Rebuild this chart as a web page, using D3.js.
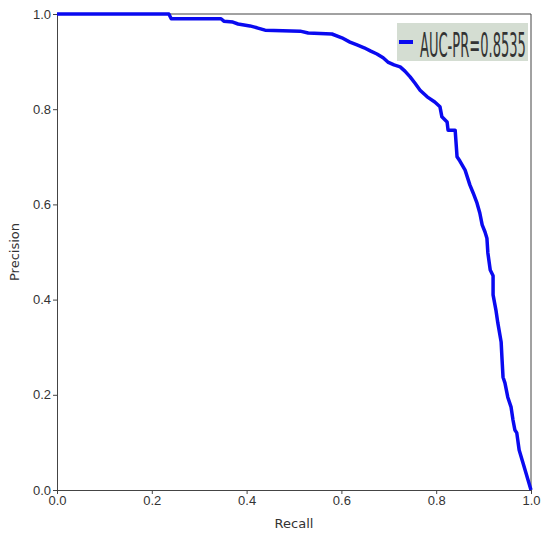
<!DOCTYPE html>
<html>
<head>
<meta charset="utf-8">
<script src="https://cdn.jsdelivr.net/npm/d3@7"></script>
<style>
  body { margin: 0; background: #fff; }
  svg { display: block; font-family: 'DejaVu Sans', sans-serif; }
  .tick text { fill: #333; font-size: 13px; }
  .tick line, .domain { stroke: #444; }
</style>
</head>
<body>
<div id="chart"></div>
<script>
// precision-recall curve
var recall = [0.000, 0.236, 0.241, 0.346, 0.352, 0.371, 0.382, 0.407, 0.422, 0.439,
    0.513, 0.530, 0.580, 0.601, 0.618, 0.633, 0.648, 0.662, 0.675, 0.688,
    0.698, 0.711, 0.724, 0.734, 0.745, 0.755, 0.766, 0.781, 0.797, 0.808,
    0.812, 0.823, 0.825, 0.840, 0.844, 0.850, 0.861, 0.871, 0.878, 0.886,
    0.892, 0.897, 0.903, 0.907, 0.909, 0.914, 0.920, 0.920, 0.926, 0.930,
    0.937, 0.939, 0.941, 0.945, 0.951, 0.958, 0.962, 0.966, 0.970, 0.975,
    0.983, 1.000];
var precision = [1.000, 1.000, 0.990, 0.990, 0.985, 0.983, 0.979, 0.975, 0.971, 0.966,
    0.964, 0.960, 0.958, 0.950, 0.941, 0.935, 0.929, 0.922, 0.916, 0.908,
    0.899, 0.893, 0.889, 0.880, 0.868, 0.855, 0.840, 0.826, 0.815, 0.805,
    0.784, 0.773, 0.756, 0.756, 0.700, 0.691, 0.672, 0.641, 0.624, 0.603,
    0.582, 0.557, 0.542, 0.529, 0.498, 0.462, 0.450, 0.410, 0.378, 0.351,
    0.311, 0.273, 0.237, 0.225, 0.195, 0.174, 0.147, 0.126, 0.120, 0.084,
    0.057, 0.000];
var xTicks = [0, 0.2, 0.4, 0.6, 0.8, 1.0];
var yTicks = [0, 0.2, 0.4, 0.6, 0.8, 1.0];
var legendLabel = 'AUC-PR=0.8535';

var width = 550, height = 537;
var margin = {top: 14, right: 19, bottom: 47, left: 57};
var w = width - margin.left - margin.right;
var h = height - margin.top - margin.bottom;

var svg = d3.select('#chart').append('svg')
    .attr('width', width)
    .attr('height', height);

var g = svg.append('g')
    .attr('transform', 'translate(' + margin.left + ',' + margin.top + ')');

var x = d3.scaleLinear().domain([0, 1]).range([0, w]);
var y = d3.scaleLinear().domain([0, 1]).range([h, 0]);

g.append('g')
    .attr('transform', 'translate(0,' + h + ')')
    .call(d3.axisBottom(x).tickValues(xTicks).tickFormat(d3.format('.1f')).tickSizeOuter(0).tickSize(4).tickPadding(2));

g.append('g')
    .call(d3.axisLeft(y).tickValues(yTicks).tickFormat(d3.format('.1f')).tickSizeOuter(0).tickSize(4).tickPadding(2));

// top and right spines
g.append('line').attr('x1', 0).attr('x2', w).attr('y1', 0).attr('y2', 0).attr('stroke', '#444');
g.append('line').attr('x1', w).attr('x2', w).attr('y1', 0).attr('y2', h).attr('stroke', '#444');

var pts = recall.map(function(r, i) { return [r, precision[i]]; });

g.append('path')
    .datum(pts)
    .attr('fill', 'none')
    .attr('stroke', '#0a0af0')
    .attr('stroke-width', 3.5)
    .attr('stroke-linejoin', 'round')
    .attr('d', d3.line()
        .x(function(d) { return x(d[0]); })
        .y(function(d) { return y(d[1]); }));

// axis labels
svg.append('text')
    .attr('x', margin.left + w / 2)
    .attr('y', 528)
    .attr('text-anchor', 'middle')
    .attr('fill', '#333')
    .style('font-size', '13px')
    .text('Recall');

svg.append('text')
    .attr('transform', 'translate(19,' + (margin.top + h / 2) + ') rotate(-90)')
    .attr('text-anchor', 'middle')
    .attr('fill', '#333')
    .style('font-size', '13px')
    .text('Precision');

// legend, the label is squeezed narrow like the source
var lg = svg.append('g');
lg.append('rect')
    .attr('x', 397).attr('y', 23)
    .attr('width', 131).attr('height', 38)
    .attr('fill', '#d4ddd2');
lg.append('line')
    .attr('x1', 399).attr('x2', 413)
    .attr('y1', 42).attr('y2', 42)
    .attr('stroke', '#0a0af0')
    .attr('stroke-width', 4);
var lt = lg.append('text')
    .attr('x', 0).attr('y', 0)
    .attr('fill', '#333')
    .style('font-size', '33px')
    .text(legendLabel);
var sx = 106 / lt.node().getComputedTextLength();
lt.attr('transform', 'translate(420,57) scale(' + sx + ',1)');
</script>
</body>
</html>
